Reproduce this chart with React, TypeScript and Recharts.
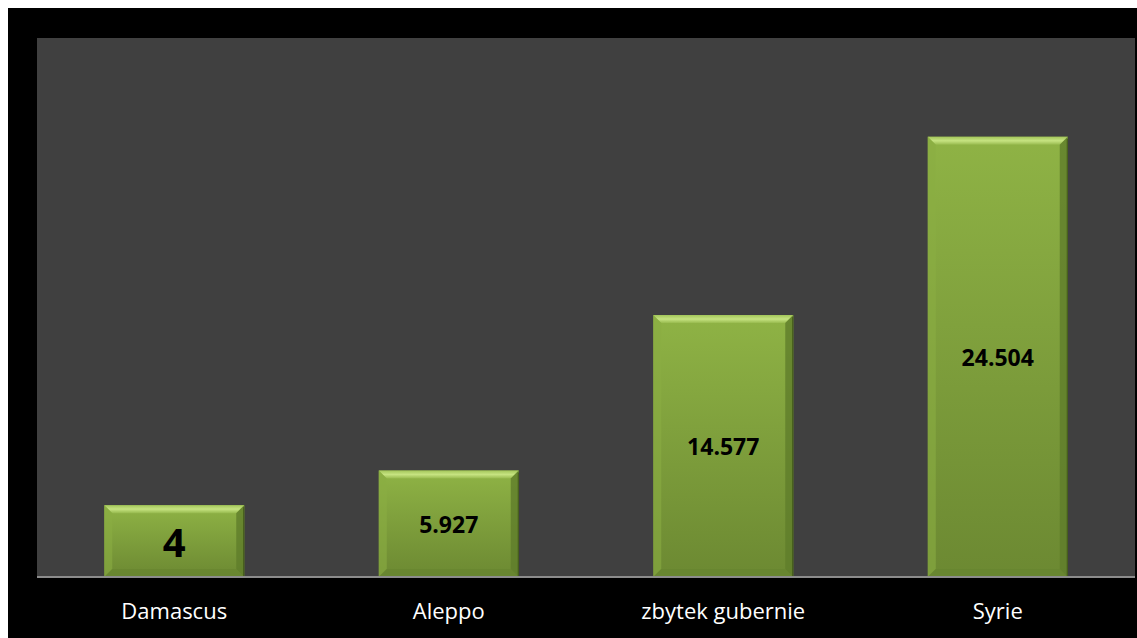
import { BarChart, Bar, XAxis, YAxis, CartesianGrid, LabelList, ReferenceLine } from 'recharts';

const categories = ['Damascus', 'Aleppo', 'zbytek gubernie', 'Syrie'];
const values = [4, 5.927, 14.577, 24.504];

const data = categories.map((name, i) => ({ name, value: values[i] }));

const BevelBar = (props: any) => {
  const { x, y, width, height } = props;
  if (!height || height <= 0) return null;
  const b = 8;
  const r = x + width;
  const bt = y + height;
  return (
    <g>
      <rect x={x} y={y} width={width} height={height} fill="url(#barFace)" />
      {/* top bevel */}
      <polygon points={`${x},${y} ${r},${y} ${r - b},${y + b} ${x + b},${y + b}`} fill="url(#bevelTop)" />
      {/* left bevel */}
      <polygon points={`${x},${y} ${x + b},${y + b} ${x + b},${bt - b} ${x},${bt}`} fill="#8aad42" opacity={0.6} />
      {/* right bevel */}
      <polygon points={`${r},${y} ${r - b},${y + b} ${r - b},${bt - b} ${r},${bt}`} fill="#5f7d2a" opacity={0.8} />
      {/* bottom bevel */}
      <polygon points={`${x},${bt} ${x + b},${bt - b} ${r - b},${bt - b} ${r},${bt}`} fill="#66842f" opacity={0.6} />
      <line x1={r - 0.5} y1={y + 2} x2={r - 0.5} y2={bt} stroke="#3f5418" strokeWidth={1} />
    </g>
  );
};

const renderLabel = (props: any) => {
  const { x, y, width, height, value, index } = props;
  const big = index === 0;
  return (
    <text
      x={x + width / 2}
      y={y + height / 2}
      textAnchor="middle"
      dominantBaseline="central"
      fill="#000"
      fontWeight={700}
      fontSize={big ? 40 : 23}
      fontFamily="'Open Sans', sans-serif"
    >
      {String(value)}
    </text>
  );
};

export default function App() {
  return (
    <div style={{ position: 'absolute', left: 8, top: 8, width: 1129, height: 630, background: '#000' }}>
      <BarChart
        width={1129}
        height={630}
        data={data}
        margin={{ top: 30, right: 2, left: 29, bottom: 0 }}
        barCategoryGap="24.5%"
      >
        <defs>
          <linearGradient id="barFace" x1="0" y1="0" x2="0" y2="1">
            <stop offset="0%" stopColor="#8fb345" />
            <stop offset="100%" stopColor="#6c8932" />
          </linearGradient>
          <linearGradient id="bevelTop" x1="0" y1="0" x2="0" y2="1">
            <stop offset="0%" stopColor="#a3c65a" />
            <stop offset="50%" stopColor="#c6e381" />
            <stop offset="100%" stopColor="#97ba4e" />
          </linearGradient>
        </defs>
        <CartesianGrid fill="#404040" stroke="none" horizontal={false} vertical={false} />
        <XAxis
          dataKey="name"
          height={61}
          axisLine={false}
          tickLine={false}
          interval={0}
          tick={{ fill: '#ffffff', fontSize: 22, fontFamily: "'Open Sans', sans-serif" }}
          dy={18}
        />
        <YAxis hide domain={[0, 30]} />
        <ReferenceLine y={0} stroke="#8c8c8c" strokeWidth={2} />
        <Bar dataKey="value" shape={BevelBar} isAnimationActive={false}>
          <LabelList dataKey="value" content={renderLabel} />
        </Bar>
      </BarChart>
    </div>
  );
}
